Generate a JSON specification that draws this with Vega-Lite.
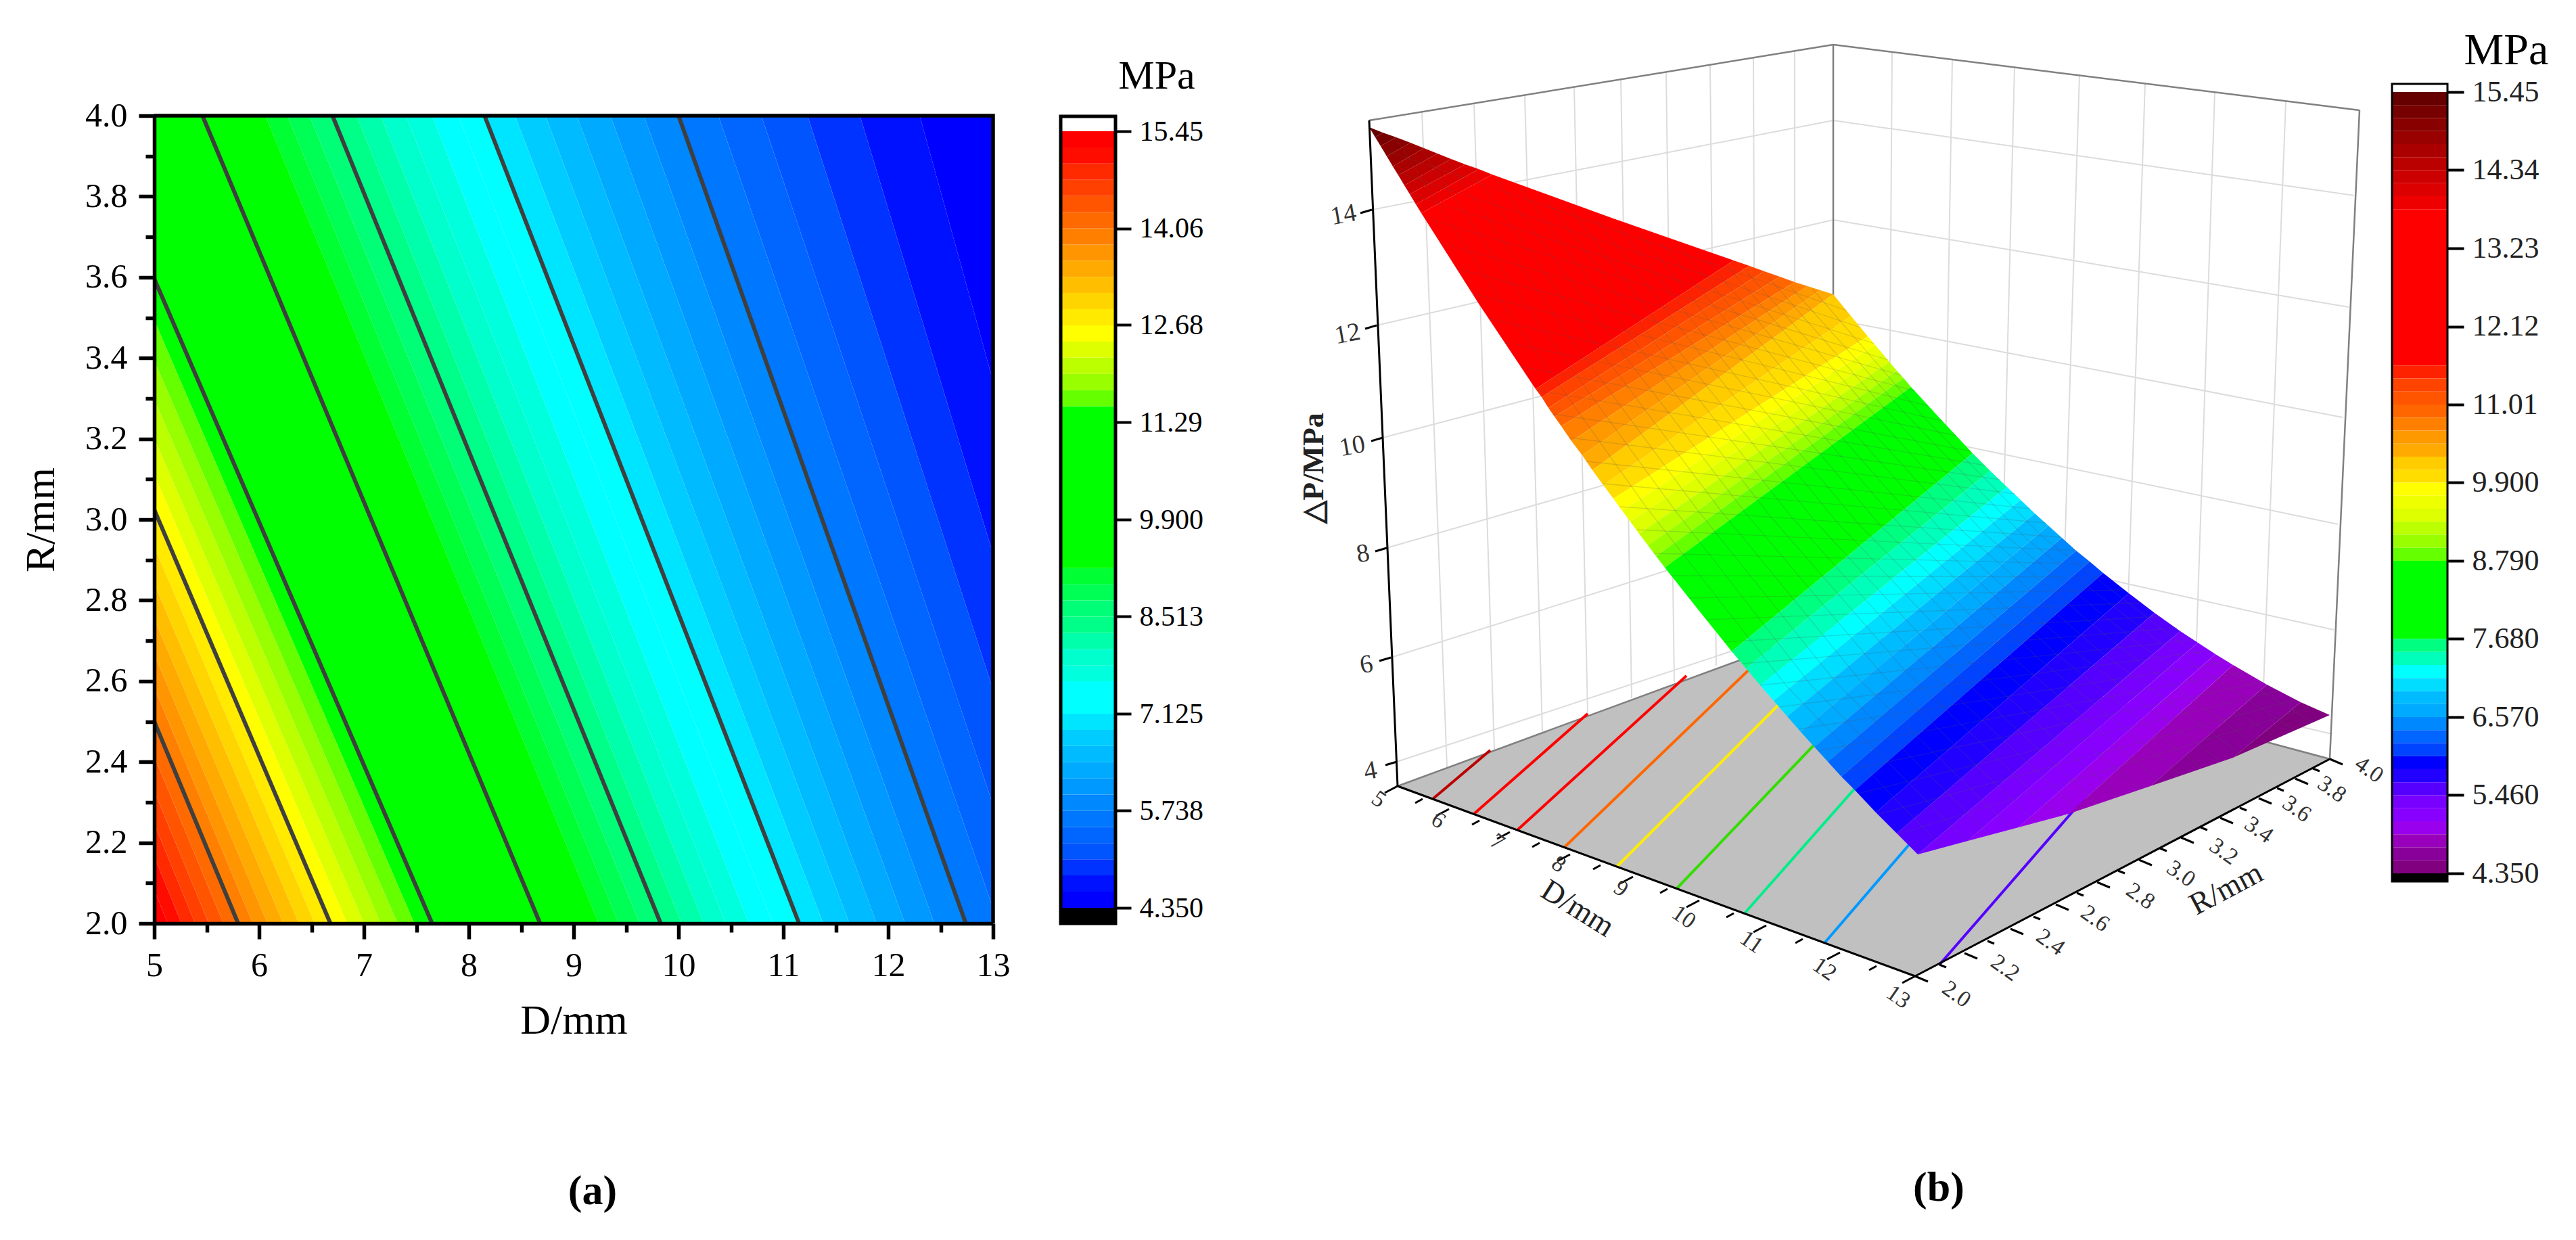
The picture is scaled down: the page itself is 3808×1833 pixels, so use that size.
{
"$schema":"https://vega.github.io/schema/vega-lite/v6.json",
"padding":{"left":29,"top":0,"right":0,"bottom":0},
"background":"white",
"config":{"view":{"stroke":null},"font":"Liberation Serif"},
"spacing":0,
"bounds":"flush",
"hconcat":[
{"width":1240,"height":1365,"layer":[
{"data":{"values":[
{"level":4.47,"R":2,"D":17.0,"D2":14.43},{"level":4.47,"R":4,"D":15.0,"D2":12.3},
{"level":4.70,"R":2,"D":14.43,"D2":14.07},{"level":4.70,"R":4,"D":12.3,"D2":11.73},
{"level":4.93,"R":2,"D":14.07,"D2":13.72},{"level":4.93,"R":4,"D":11.73,"D2":11.23},
{"level":5.16,"R":2,"D":13.72,"D2":13.38},{"level":5.16,"R":4,"D":11.23,"D2":10.79},
{"level":5.39,"R":2,"D":13.38,"D2":13.05},{"level":5.39,"R":4,"D":10.79,"D2":10.38},
{"level":5.62,"R":2,"D":13.05,"D2":12.74},{"level":5.62,"R":4,"D":10.38,"D2":10.0},
{"level":5.85,"R":2,"D":12.74,"D2":12.44},{"level":5.85,"R":4,"D":10.0,"D2":9.67},
{"level":6.08,"R":2,"D":12.44,"D2":12.16},{"level":6.08,"R":4,"D":9.67,"D2":9.35},
{"level":6.32,"R":2,"D":12.16,"D2":11.89},{"level":6.32,"R":4,"D":9.35,"D2":9.03},
{"level":6.55,"R":2,"D":11.89,"D2":11.63},{"level":6.55,"R":4,"D":9.03,"D2":8.73},
{"level":6.78,"R":2,"D":11.63,"D2":11.38},{"level":6.78,"R":4,"D":8.73,"D2":8.44},
{"level":7.01,"R":2,"D":11.38,"D2":11.15},{"level":7.01,"R":4,"D":8.44,"D2":8.15},
{"level":7.24,"R":2,"D":11.15,"D2":10.9},{"level":7.24,"R":4,"D":8.15,"D2":7.9},
{"level":7.47,"R":2,"D":10.9,"D2":10.67},{"level":7.47,"R":4,"D":7.9,"D2":7.65},
{"level":7.70,"R":2,"D":10.67,"D2":10.45},{"level":7.70,"R":4,"D":7.65,"D2":7.4},
{"level":7.93,"R":2,"D":10.45,"D2":10.24},{"level":7.93,"R":4,"D":7.4,"D2":7.16},
{"level":8.17,"R":2,"D":10.24,"D2":10.03},{"level":8.17,"R":4,"D":7.16,"D2":6.93},
{"level":8.40,"R":2,"D":10.03,"D2":9.83},{"level":8.40,"R":4,"D":6.93,"D2":6.7},
{"level":8.63,"R":2,"D":9.83,"D2":9.63},{"level":8.63,"R":4,"D":6.7,"D2":6.48},
{"level":8.86,"R":2,"D":9.63,"D2":9.43},{"level":8.86,"R":4,"D":6.48,"D2":6.27},
{"level":9.09,"R":2,"D":9.43,"D2":9.24},{"level":9.09,"R":4,"D":6.27,"D2":6.06},
{"level":10.4,"R":2,"D":9.24,"D2":7.48},{"level":10.4,"R":4,"D":6.06,"D2":4.16},
{"level":11.63,"R":2,"D":7.48,"D2":7.32},{"level":11.63,"R":4,"D":4.16,"D2":3.99},
{"level":11.87,"R":2,"D":7.32,"D2":7.16},{"level":11.87,"R":4,"D":3.99,"D2":3.83},
{"level":12.10,"R":2,"D":7.16,"D2":7.0},{"level":12.10,"R":4,"D":3.83,"D2":3.67},
{"level":12.33,"R":2,"D":7.0,"D2":6.84},{"level":12.33,"R":4,"D":3.67,"D2":3.53},
{"level":12.56,"R":2,"D":6.84,"D2":6.68},{"level":12.56,"R":4,"D":3.53,"D2":3.4},
{"level":12.79,"R":2,"D":6.68,"D2":6.53},{"level":12.79,"R":4,"D":3.4,"D2":3.25},
{"level":13.02,"R":2,"D":6.53,"D2":6.38},{"level":13.02,"R":4,"D":3.25,"D2":3.1},
{"level":13.25,"R":2,"D":6.38,"D2":6.23},{"level":13.25,"R":4,"D":3.1,"D2":2.97},
{"level":13.48,"R":2,"D":6.23,"D2":6.08},{"level":13.48,"R":4,"D":2.97,"D2":2.84},
{"level":13.72,"R":2,"D":6.08,"D2":5.94},{"level":13.72,"R":4,"D":2.84,"D2":2.72},
{"level":13.95,"R":2,"D":5.94,"D2":5.8},{"level":13.95,"R":4,"D":2.72,"D2":2.6},
{"level":14.18,"R":2,"D":5.8,"D2":5.66},{"level":14.18,"R":4,"D":2.6,"D2":2.47},
{"level":14.41,"R":2,"D":5.66,"D2":5.52},{"level":14.41,"R":4,"D":2.47,"D2":2.35},
{"level":14.64,"R":2,"D":5.52,"D2":5.39},{"level":14.64,"R":4,"D":2.35,"D2":2.23},
{"level":14.87,"R":2,"D":5.39,"D2":5.26},{"level":14.87,"R":4,"D":2.23,"D2":2.12},
{"level":15.10,"R":2,"D":5.26,"D2":5.13},{"level":15.10,"R":4,"D":2.12,"D2":2.0},
{"level":15.33,"R":2,"D":5.13,"D2":5.0},{"level":15.33,"R":4,"D":2.0,"D2":1.9}
]},
"mark":{"type":"area","orient":"horizontal","clip":true},
"encoding":{
"x":{"field":"D","type":"quantitative","scale":{"domain":[5,13],"nice":false,"zero":false},
"axis":{"values":[5,5.5,6,6.5,7,7.5,8,8.5,9,9.5,10,10.5,11,11.5,12,12.5,13],"labelExpr":"datum.value%1==0?format(datum.value,'d'):''","tickSize":{"condition":{"test":"datum.value%1==0","value":23},"value":13},"tickWidth":5.5,"tickColor":"black","domainWidth":5.5,"domainColor":"black","labelFont":"Liberation Serif","labelFontSize":50,"labelColor":"black","labelPadding":14,"labelOverlap":false,"labelBound":false,"labelFlush":false,"grid":false,"title":"D/mm","titleFont":"Liberation Serif","titleFontSize":62,"titleFontWeight":"normal","titleColor":"black","titlePadding":26,"zindex":2}},
"x2":{"field":"D2"},
"y":{"field":"R","type":"quantitative","scale":{"domain":[2,4],"range":[1365,171],"nice":false,"zero":false},
"axis":{"values":[2,2.1,2.2,2.3,2.4,2.5,2.6,2.7,2.8,2.9,3,3.1,3.2,3.3,3.4,3.5,3.6,3.7,3.8,3.9,4],"labelExpr":"round(datum.value*10)%2==0?format(datum.value,'.1f'):''","tickSize":{"condition":{"test":"round(datum.value*10)%2==0","value":23},"value":13},"tickWidth":5.5,"tickColor":"black","domainWidth":5.5,"domainColor":"black","labelFont":"Liberation Serif","labelFontSize":50,"labelColor":"black","labelPadding":17,"labelOverlap":false,"labelBound":false,"grid":false,"title":"R/mm","titleFont":"Liberation Serif","titleFontSize":62,"titleFontWeight":"normal","titleColor":"black","titlePadding":33,"zindex":2}},
"color":{"field":"level","type":"quantitative","legend":null,"scale":{"type":"threshold","domain":[4.581,4.813,5.044,5.275,5.506,5.738,5.969,6.2,6.431,6.663,6.894,7.125,7.356,7.588,7.819,8.05,8.281,8.513,8.744,8.975,9.206,11.519,11.75,11.981,12.213,12.444,12.675,12.906,13.138,13.369,13.6,13.831,14.063,14.294,14.525,14.756,14.988,15.219],"range":["#0000FF","#0011FF","#0033FF","#0055FF","#0066FF","#0077FF","#0088FF","#0099FF","#00AAFF","#00BBFF","#00CCFF","#00E5FF","#00FFFF","#00FFFF","#00FFDD","#00FFCC","#00FFAA","#00FF88","#00FF77","#00FF55","#00FF33","#00FF00","#66FF00","#99FF00","#BBFF00","#DDFF00","#FFFF00","#FFEA00","#FFD500","#FFBF00","#FFAA00","#FF9500","#FF8000","#FF6A00","#FF5500","#FF4000","#FF2A00","#FF0C00","#FF0000"]}},
"detail":{"field":"level"}}},
{"data":{"values":[
{"level":14.06,"R":2,"D":5.8},{"level":14.06,"R":4,"D":2.6},
{"level":12.68,"R":2,"D":6.68},{"level":12.68,"R":4,"D":3.4},
{"level":11.29,"R":2,"D":7.65},{"level":11.29,"R":4,"D":4.33},
{"level":9.9,"R":2,"D":8.68},{"level":9.9,"R":4,"D":5.46},
{"level":8.513,"R":2,"D":9.83},{"level":8.513,"R":4,"D":6.7},
{"level":7.125,"R":2,"D":11.15},{"level":7.125,"R":4,"D":8.15},
{"level":5.738,"R":2,"D":12.74},{"level":5.738,"R":4,"D":10.0}
]},
"mark":{"type":"line","color":"#3f3f3f","strokeWidth":6,"clip":true},
"encoding":{"x":{"field":"D","type":"quantitative"},"y":{"field":"R","type":"quantitative"},"detail":{"field":"level"}}},
{"data":{"values":[{"D":5,"R":4},{"D":13,"R":4},{"D":13,"R":2}]},
"mark":{"type":"line","color":"black","strokeWidth":5.5},
"encoding":{"x":{"field":"D","type":"quantitative"},"y":{"field":"R","type":"quantitative"}}},
{"data":{"values":[{"caption":"(a)","D":9.18,"R":1.305}]},
"mark":{"type":"text","fontSize":62,"fontWeight":"bold","font":"Liberation Serif","color":"black","align":"center","baseline":"alphabetic"},
"encoding":{"x":{"field":"D","type":"quantitative"},"y":{"field":"R","type":"quantitative"},"text":{"field":"caption"}}}
]},
{"width":181,"height":1365,"layer":[
{"data":{"values":[
{"level":4.47,"lo":4.35,"hi":4.581},{"level":4.70,"lo":4.581,"hi":4.813},{"level":4.93,"lo":4.813,"hi":5.044},{"level":5.16,"lo":5.044,"hi":5.275},{"level":5.39,"lo":5.275,"hi":5.506},{"level":5.62,"lo":5.506,"hi":5.738},{"level":5.85,"lo":5.738,"hi":5.969},{"level":6.08,"lo":5.969,"hi":6.2},{"level":6.32,"lo":6.2,"hi":6.431},{"level":6.55,"lo":6.431,"hi":6.663},{"level":6.78,"lo":6.663,"hi":6.894},{"level":7.01,"lo":6.894,"hi":7.125},{"level":7.24,"lo":7.125,"hi":7.356},{"level":7.47,"lo":7.356,"hi":7.588},{"level":7.70,"lo":7.588,"hi":7.819},{"level":7.93,"lo":7.819,"hi":8.05},{"level":8.17,"lo":8.05,"hi":8.281},{"level":8.40,"lo":8.281,"hi":8.513},{"level":8.63,"lo":8.513,"hi":8.744},{"level":8.86,"lo":8.744,"hi":8.975},{"level":9.09,"lo":8.975,"hi":9.206},{"level":10.4,"lo":9.206,"hi":11.519},{"level":11.63,"lo":11.519,"hi":11.75},{"level":11.87,"lo":11.75,"hi":11.981},{"level":12.10,"lo":11.981,"hi":12.213},{"level":12.33,"lo":12.213,"hi":12.444},{"level":12.56,"lo":12.444,"hi":12.675},{"level":12.79,"lo":12.675,"hi":12.906},{"level":13.02,"lo":12.906,"hi":13.138},{"level":13.25,"lo":13.138,"hi":13.369},{"level":13.48,"lo":13.369,"hi":13.6},{"level":13.72,"lo":13.6,"hi":13.831},{"level":13.95,"lo":13.831,"hi":14.063},{"level":14.18,"lo":14.063,"hi":14.294},{"level":14.41,"lo":14.294,"hi":14.525},{"level":14.64,"lo":14.525,"hi":14.756},{"level":14.87,"lo":14.756,"hi":14.988},{"level":15.10,"lo":14.988,"hi":15.219},{"level":15.33,"lo":15.219,"hi":15.45}
]},
"mark":{"type":"rect"},
"encoding":{
"x":{"datum":0,"type":"quantitative","scale":{"domain":[0,1],"range":[100,181]},"axis":null},
"x2":{"datum":1},
"y":{"field":"lo","type":"quantitative","scale":{"domain":[4.35,15.45],"range":[1342,194],"nice":false,"zero":false},
"axis":{"orient":"right","values":[4.35,5.738,7.125,8.513,9.9,11.29,12.68,14.06,15.45],"format":".4r","domain":false,"tickSize":23,"tickWidth":4,"tickColor":"black","labelFont":"Liberation Serif","labelFontSize":42,"labelColor":"black","labelPadding":12,"labelOverlap":false,"labelBound":false,"grid":false,"title":null,"zindex":2}},
"y2":{"field":"hi"},
"color":{"field":"level","type":"quantitative","legend":null,"scale":{"type":"threshold","domain":[4.581,4.813,5.044,5.275,5.506,5.738,5.969,6.2,6.431,6.663,6.894,7.125,7.356,7.588,7.819,8.05,8.281,8.513,8.744,8.975,9.206,11.519,11.75,11.981,12.213,12.444,12.675,12.906,13.138,13.369,13.6,13.831,14.063,14.294,14.525,14.756,14.988,15.219],"range":["#0000FF","#0011FF","#0033FF","#0055FF","#0066FF","#0077FF","#0088FF","#0099FF","#00AAFF","#00BBFF","#00CCFF","#00E5FF","#00FFFF","#00FFFF","#00FFDD","#00FFCC","#00FFAA","#00FF88","#00FF77","#00FF55","#00FF33","#00FF00","#66FF00","#99FF00","#BBFF00","#DDFF00","#FFFF00","#FFEA00","#FFD500","#FFBF00","#FFAA00","#FF9500","#FF8000","#FF6A00","#FF5500","#FF4000","#FF2A00","#FF0C00","#FF0000"]}}}},
{"data":{"values":[{"lo":4.128,"hi":4.35}]},
"mark":{"type":"rect","color":"black"},
"encoding":{"x":{"datum":0,"type":"quantitative"},"x2":{"datum":1},"y":{"field":"lo","type":"quantitative"},"y2":{"field":"hi"}}},
{"data":{"values":[{"lo":4.128,"hi":15.663}]},
"mark":{"type":"rect","filled":false,"stroke":"black","strokeWidth":5},
"encoding":{"x":{"datum":0,"type":"quantitative"},"x2":{"datum":1},"y":{"field":"lo","type":"quantitative"},"y2":{"field":"hi"}}},
{"data":{"values":[{"unit":"MPa","x":1.753,"lo":16.06}]},
"mark":{"type":"text","fontSize":60,"font":"Liberation Serif","color":"black","align":"center","baseline":"alphabetic"},
"encoding":{"x":{"field":"x","type":"quantitative"},"y":{"field":"lo","type":"quantitative"},"text":{"field":"unit"}}}
]},
{"width":1887,"height":1833,"layer":[
{"data":{"values":[
{"u":45.3,"v":166.8,"u2":49.0,"v2":69.9},{"u":53.0,"v":168.0,"u2":56.0,"v2":72.5},{"u":60.5,"v":169.3,"u2":63.1,"v2":75.2},{"u":67.8,"v":170.5,"u2":69.8,"v2":77.7},{"u":74.7,"v":171.6,"u2":76.3,"v2":80.1},{"u":81.4,"v":172.7,"u2":82.6,"v2":82.5},{"u":87.9,"v":173.7,"u2":88.8,"v2":84.9},{"u":94.3,"v":174.8,"u2":94.6,"v2":87.0},{"u":100.4,"v":175.8,"u2":100.4,"v2":89.2},
{"u":37.9,"v":152.3,"u2":106.1,"v2":165.5},{"u":38.6,"v":135.2,"u2":106.1,"v2":150.8},{"u":39.5,"v":118.6,"u2":106.1,"v2":136.1},{"u":40.1,"v":102.3,"u2":106.1,"v2":121.4},{"u":40.7,"v":86.1,"u2":106.1,"v2":106.7},{"u":41.6,"v":70.7,"u2":106.1,"v2":92.0},
{"u":106.1,"v":165.5,"u2":183.1,"v2":154.4},{"u":106.1,"v":150.8,"u2":182.3,"v2":137.9},{"u":106.1,"v":136.1,"u2":181.4,"v2":121.6},{"u":106.1,"v":121.4,"u2":180.7,"v2":105.8},{"u":106.1,"v":106.7,"u2":180.1,"v2":90.2},{"u":106.1,"v":92.0,"u2":179.8,"v2":74.8},
{"u":114.8,"v":175.6,"u2":114.2,"v2":88.6},{"u":123.7,"v":174.5,"u2":122.2,"v2":86.5},{"u":132.9,"v":173.4,"u2":130.7,"v2":84.2},{"u":142.5,"v":172.2,"u2":139.7,"v2":81.8},{"u":152.2,"v":171.0,"u2":149.2,"v2":79.3},{"u":162.5,"v":169.7,"u2":159.4,"v2":76.5},{"u":173.0,"v":168.4,"u2":169.4,"v2":73.8}
]},
"mark":{"type":"rule","color":"#dcdcdc","strokeWidth":2},
"encoding":{
"x":{"field":"u","type":"quantitative","scale":{"domain":[0,188.7],"nice":false,"zero":false},"axis":null},
"y":{"field":"v","type":"quantitative","scale":{"domain":[0,183.3],"nice":false,"zero":false},"axis":null},
"x2":{"field":"u2"},"y2":{"field":"v2"}}},
{"data":{"values":[
{"u":37.5,"v":165.5,"u2":106.1,"v2":176.7},{"u":106.1,"v":176.7,"u2":183.9,"v2":167.0},{"u":106.1,"v":176.7,"u2":106.1,"v2":90.8},{"u":183.9,"v":167.0,"u2":179.5,"v2":71.1}
]},
"mark":{"type":"rule","color":"#808080","strokeWidth":2.5},
"encoding":{"x":{"field":"u","type":"quantitative"},"y":{"field":"v","type":"quantitative"},"x2":{"field":"u2"},"y2":{"field":"v2"}}},
{"data":{"values":[{"k":0,"u":41.7,"v":67.1},{"k":1,"u":118.2,"v":39.0},{"k":2,"u":179.5,"v":71.1},{"k":3,"u":106.1,"v":90.8}]},
"mark":{"type":"line","fill":"#C0C0C0","stroke":"#808080","strokeWidth":2.5,"interpolate":"linear-closed"},
"encoding":{"x":{"field":"u","type":"quantitative"},"y":{"field":"v","type":"quantitative"},"order":{"field":"k"}}},
{"data":{"values":[
{"level":14.34,"u":46.9,"v":65.2,"u2":55.4,"v2":72.4},{"level":13.23,"u":53.0,"v":63.0,"u2":69.8,"v2":77.8},{"level":12.12,"u":59.4,"v":60.6,"u2":84.4,"v2":83.4},{"level":11.01,"u":66.4,"v":58.1,"u2":95.2,"v2":85.8},{"level":9.9,"u":74.1,"v":55.2,"u2":101.2,"v2":82.3},{"level":8.79,"u":83.0,"v":52.0,"u2":107.2,"v2":77.3},{"level":7.68,"u":93.0,"v":48.3,"u2":114.2,"v2":72.3},{"level":6.57,"u":104.8,"v":43.9,"u2":120.2,"v2":61.8},{"level":5.46,"u":121.8,"v":40.7,"u2":143.2,"v2":65.3}
]},
"mark":{"type":"rule","strokeWidth":4},
"encoding":{"x":{"field":"u","type":"quantitative"},"y":{"field":"v","type":"quantitative"},"x2":{"field":"u2"},"y2":{"field":"v2"},
"color":{"field":"level","type":"ordinal","legend":null,"scale":{"domain":[14.34,13.23,12.12,11.01,9.9,8.79,7.68,6.57,5.46],"range":["#BB0000","#FF0000","#FF0000","#FF6600","#FFEE00","#33DD00","#00EE88","#0099FF","#5500FF"]}}}},
{"data":{"values":[
{"level":15.36,"k":0,"u":37.5,"v":164.5},{"level":15.36,"k":1,"u":39.5,"v":163.7},{"level":15.36,"k":2,"u":38.4,"v":163.0},
{"level":15.17,"k":0,"u":38.4,"v":163.0},{"level":15.17,"k":1,"u":39.5,"v":163.7},{"level":15.17,"k":2,"u":41.5,"v":163.0},{"level":15.17,"k":3,"u":39.2,"v":161.7},
{"level":14.99,"k":0,"u":39.2,"v":161.7},{"level":14.99,"k":1,"u":41.5,"v":163.0},{"level":14.99,"k":2,"u":43.6,"v":162.2},{"level":14.99,"k":3,"u":40.1,"v":160.2},
{"level":14.80,"k":0,"u":40.1,"v":160.2},{"level":14.80,"k":1,"u":43.6,"v":162.2},{"level":14.80,"k":2,"u":45.6,"v":161.4},{"level":14.80,"k":3,"u":41.0,"v":158.7},
{"level":14.62,"k":0,"u":41.0,"v":158.7},{"level":14.62,"k":1,"u":45.6,"v":161.4},{"level":14.62,"k":2,"u":47.6,"v":160.6},{"level":14.62,"k":3,"u":41.8,"v":157.4},
{"level":14.43,"k":0,"u":41.8,"v":157.4},{"level":14.43,"k":1,"u":47.6,"v":160.6},{"level":14.43,"k":2,"u":49.6,"v":159.8},{"level":14.43,"k":3,"u":42.7,"v":155.9},
{"level":14.25,"k":0,"u":42.7,"v":155.9},{"level":14.25,"k":1,"u":49.6,"v":159.8},{"level":14.25,"k":2,"u":51.7,"v":159.0},{"level":14.25,"k":3,"u":43.5,"v":154.6},
{"level":14.06,"k":0,"u":43.5,"v":154.6},{"level":14.06,"k":1,"u":51.7,"v":159.0},{"level":14.06,"k":2,"u":53.7,"v":158.3},{"level":14.06,"k":3,"u":44.4,"v":153.1},
{"level":13.88,"k":0,"u":44.4,"v":153.1},{"level":13.88,"k":1,"u":53.7,"v":158.3},{"level":13.88,"k":2,"u":55.7,"v":157.5},{"level":13.88,"k":3,"u":45.2,"v":151.8},
{"level":13.0,"k":0,"u":45.2,"v":151.8},{"level":13.0,"k":1,"u":53.7,"v":138.4},{"level":13.0,"k":2,"u":62.1,"v":125.8},{"level":13.0,"k":3,"u":91.4,"v":144.8},{"level":13.0,"k":4,"u":73.6,"v":151.0},{"level":13.0,"k":5,"u":55.7,"v":157.5},
{"level":11.47,"k":0,"u":62.1,"v":125.8},{"level":11.47,"k":1,"u":91.4,"v":144.8},{"level":11.47,"k":2,"u":93.7,"v":144.0},{"level":11.47,"k":3,"u":63.0,"v":124.6},
{"level":11.29,"k":0,"u":63.0,"v":124.6},{"level":11.29,"k":1,"u":93.7,"v":144.0},{"level":11.29,"k":2,"u":95.9,"v":143.2},{"level":11.29,"k":3,"u":64.0,"v":123.0},
{"level":11.10,"k":0,"u":64.0,"v":123.0},{"level":11.10,"k":1,"u":95.9,"v":143.2},{"level":11.10,"k":2,"u":98.2,"v":142.4},{"level":11.10,"k":3,"u":64.9,"v":121.7},
{"level":10.92,"k":0,"u":64.9,"v":121.7},{"level":10.92,"k":1,"u":98.2,"v":142.4},{"level":10.92,"k":2,"u":100.4,"v":141.6},{"level":10.92,"k":3,"u":65.9,"v":120.3},
{"level":10.73,"k":0,"u":65.9,"v":120.3},{"level":10.73,"k":1,"u":100.4,"v":141.6},{"level":10.73,"k":2,"u":102.3,"v":141.0},{"level":10.73,"k":3,"u":67.4,"v":118.1},
{"level":10.55,"k":0,"u":67.4,"v":118.1},{"level":10.55,"k":1,"u":102.3,"v":141.0},{"level":10.55,"k":2,"u":104.2,"v":140.4},{"level":10.55,"k":3,"u":69.0,"v":116.0},
{"level":10.36,"k":0,"u":69.0,"v":116.0},{"level":10.36,"k":1,"u":104.2,"v":140.4},{"level":10.36,"k":2,"u":106.1,"v":139.8},{"level":10.36,"k":3,"u":70.5,"v":113.8},
{"level":10.18,"k":0,"u":70.5,"v":113.8},{"level":10.18,"k":1,"u":106.1,"v":139.8},{"level":10.18,"k":2,"u":108.7,"v":136.6},{"level":10.18,"k":3,"u":72.1,"v":111.6},
{"level":9.99,"k":0,"u":72.1,"v":111.6},{"level":9.99,"k":1,"u":108.7,"v":136.6},{"level":9.99,"k":2,"u":111.2,"v":133.6},{"level":9.99,"k":3,"u":73.6,"v":109.6},
{"level":9.81,"k":0,"u":73.6,"v":109.6},{"level":9.81,"k":1,"u":111.2,"v":133.6},{"level":9.81,"k":2,"u":112.3,"v":132.3},{"level":9.81,"k":3,"u":74.9,"v":107.8},
{"level":9.62,"k":0,"u":74.9,"v":107.8},{"level":9.62,"k":1,"u":112.3,"v":132.3},{"level":9.62,"k":2,"u":113.4,"v":131.0},{"level":9.62,"k":3,"u":76.1,"v":106.2},
{"level":9.44,"k":0,"u":76.1,"v":106.2},{"level":9.44,"k":1,"u":113.4,"v":131.0},{"level":9.44,"k":2,"u":114.4,"v":129.8},{"level":9.44,"k":3,"u":77.4,"v":104.4},
{"level":9.25,"k":0,"u":77.4,"v":104.4},{"level":9.25,"k":1,"u":114.4,"v":129.8},{"level":9.25,"k":2,"u":115.5,"v":128.5},{"level":9.25,"k":3,"u":78.7,"v":102.7},
{"level":9.07,"k":0,"u":78.7,"v":102.7},{"level":9.07,"k":1,"u":115.5,"v":128.5},{"level":9.07,"k":2,"u":116.5,"v":127.4},{"level":9.07,"k":3,"u":79.9,"v":101.1},
{"level":8.88,"k":0,"u":79.9,"v":101.1},{"level":8.88,"k":1,"u":116.5,"v":127.4},{"level":8.88,"k":2,"u":117.6,"v":126.1},{"level":8.88,"k":3,"u":81.2,"v":99.4},
{"level":8.2,"k":0,"u":81.2,"v":99.4},{"level":8.2,"k":1,"u":86.2,"v":93.1},{"level":8.2,"k":2,"u":91.1,"v":87.0},{"level":8.2,"k":3,"u":126.7,"v":116.3},{"level":8.2,"k":4,"u":122.2,"v":121.1},{"level":8.2,"k":5,"u":117.6,"v":126.1},
{"level":7.59,"k":0,"u":91.1,"v":87.0},{"level":7.59,"k":1,"u":126.7,"v":116.3},{"level":7.59,"k":2,"u":129.3,"v":113.7},{"level":7.59,"k":3,"u":93.2,"v":84.5},
{"level":7.40,"k":0,"u":93.2,"v":84.5},{"level":7.40,"k":1,"u":129.3,"v":113.7},{"level":7.40,"k":2,"u":131.8,"v":111.3},{"level":7.40,"k":3,"u":95.3,"v":82.0},
{"level":7.22,"k":0,"u":95.3,"v":82.0},{"level":7.22,"k":1,"u":131.8,"v":111.3},{"level":7.22,"k":2,"u":133.8,"v":109.4},{"level":7.22,"k":3,"u":97.3,"v":79.7},
{"level":7.03,"k":0,"u":97.3,"v":79.7},{"level":7.03,"k":1,"u":133.8,"v":109.4},{"level":7.03,"k":2,"u":135.9,"v":107.4},{"level":7.03,"k":3,"u":99.3,"v":77.4},
{"level":6.85,"k":0,"u":99.3,"v":77.4},{"level":6.85,"k":1,"u":135.9,"v":107.4},{"level":6.85,"k":2,"u":137.9,"v":105.6},{"level":6.85,"k":3,"u":101.3,"v":75.1},
{"level":6.66,"k":0,"u":101.3,"v":75.1},{"level":6.66,"k":1,"u":137.9,"v":105.6},{"level":6.66,"k":2,"u":139.9,"v":103.8},{"level":6.66,"k":3,"u":103.3,"v":72.9},
{"level":6.48,"k":0,"u":103.3,"v":72.9},{"level":6.48,"k":1,"u":139.9,"v":103.8},{"level":6.48,"k":2,"u":142.0,"v":101.9},{"level":6.48,"k":3,"u":105.3,"v":70.7},
{"level":6.29,"k":0,"u":105.3,"v":70.7},{"level":6.29,"k":1,"u":142.0,"v":101.9},{"level":6.29,"k":2,"u":144.0,"v":100.3},{"level":6.29,"k":3,"u":107.3,"v":68.5},
{"level":6.11,"k":0,"u":107.3,"v":68.5},{"level":6.11,"k":1,"u":144.0,"v":100.3},{"level":6.11,"k":2,"u":146.0,"v":98.6},{"level":6.11,"k":3,"u":109.3,"v":66.5},
{"level":5.92,"k":0,"u":109.3,"v":66.5},{"level":5.92,"k":1,"u":146.0,"v":98.6},{"level":5.92,"k":2,"u":149.8,"v":95.6},{"level":5.92,"k":3,"u":112.4,"v":63.2},
{"level":5.74,"k":0,"u":112.4,"v":63.2},{"level":5.74,"k":1,"u":149.8,"v":95.6},{"level":5.74,"k":2,"u":153.6,"v":92.7},{"level":5.74,"k":3,"u":115.5,"v":60.1},
{"level":5.55,"k":0,"u":115.5,"v":60.1},{"level":5.55,"k":1,"u":153.6,"v":92.7},{"level":5.55,"k":2,"u":157.4,"v":90.0},{"level":5.55,"k":3,"u":118.6,"v":57.0},
{"level":5.37,"k":0,"u":118.6,"v":57.0},{"level":5.37,"k":1,"u":157.4,"v":90.0},{"level":5.37,"k":2,"u":160.0,"v":88.3},{"level":5.37,"k":3,"u":126.0,"v":59.0},
{"level":5.18,"k":0,"u":126.0,"v":59.0},{"level":5.18,"k":1,"u":160.0,"v":88.3},{"level":5.18,"k":2,"u":162.6,"v":86.6},{"level":5.18,"k":3,"u":133.5,"v":61.0},
{"level":5.00,"k":0,"u":133.5,"v":61.0},{"level":5.00,"k":1,"u":162.6,"v":86.6},{"level":5.00,"k":2,"u":165.2,"v":85.0},{"level":5.00,"k":3,"u":140.9,"v":63.0},
{"level":4.81,"k":0,"u":140.9,"v":63.0},{"level":4.81,"k":1,"u":165.2,"v":85.0},{"level":4.81,"k":2,"u":170.2,"v":82.1},{"level":4.81,"k":3,"u":153.0,"v":67.1},
{"level":4.63,"k":0,"u":153.0,"v":67.1},{"level":4.63,"k":1,"u":170.2,"v":82.1},{"level":4.63,"k":2,"u":175.2,"v":79.5},{"level":4.63,"k":3,"u":165.2,"v":71.3},
{"level":4.44,"k":0,"u":165.2,"v":71.3},{"level":4.44,"k":1,"u":175.2,"v":79.5},{"level":4.44,"k":2,"u":179.5,"v":77.6}
]},
"mark":{"type":"line","strokeWidth":0,"interpolate":"linear-closed"},
"encoding":{"x":{"field":"u","type":"quantitative"},"y":{"field":"v","type":"quantitative"},"order":{"field":"k"},"detail":{"field":"level"},
"fill":{"field":"level","type":"quantitative","legend":null,"scale":{"type":"threshold","domain":[4.535,4.72,4.905,5.09,5.275,5.46,5.645,5.83,6.015,6.2,6.385,6.57,6.755,6.94,7.125,7.31,7.495,7.68,8.79,8.975,9.16,9.345,9.53,9.715,9.9,10.085,10.27,10.455,10.64,10.825,11.01,11.195,11.38,11.565,13.785,13.97,14.155,14.34,14.525,14.71,14.895,15.08,15.265],"range":["#800080","#880099","#9900BB","#9900EE","#8800FF","#7700FF","#5500FF","#2200FF","#0000FF","#0044FF","#0066FF","#0088FF","#00AAFF","#00BBFF","#00DDFF","#00FFFF","#00FFBB","#00FF80","#00FF00","#66FF00","#99FF00","#BBFF00","#DDFF00","#EEFF00","#FFFF00","#FFDD00","#FFCC00","#FFAA00","#FF9900","#FF8000","#FF6600","#FF5500","#FF4400","#FF2200","#FF0000","#EE0000","#DD0000","#CC0000","#BB0000","#AA0000","#990000","#880000","#770000","#660000"]}}}},
{"data":{"values":[
{"u":41.5,"v":157.9,"u2":110.1,"v2":134.9},{"u":45.6,"v":151.2,"u2":114.2,"v2":130.1},{"u":50.4,"v":143.6,"u2":118.2,"v2":125.5},{"u":55.2,"v":136.2,"u2":122.2,"v2":121.1},{"u":59.9,"v":129.1,"u2":126.4,"v2":116.6},{"u":64.7,"v":122.1,"u2":130.7,"v2":112.4},{"u":69.6,"v":115.1,"u2":135.2,"v2":108.1},{"u":74.5,"v":108.4,"u2":139.7,"v2":103.9},{"u":79.6,"v":101.5,"u2":144.4,"v2":99.9},{"u":84.8,"v":94.9,"u2":149.2,"v2":96.1},{"u":90.0,"v":88.4,"u2":154.3,"v2":92.2},{"u":95.3,"v":82.0,"u2":159.4,"v2":88.7},{"u":101.0,"v":75.5,"u2":164.4,"v2":85.5},{"u":106.8,"v":69.1,"u2":169.4,"v2":82.5},{"u":112.7,"v":62.9,"u2":174.4,"v2":79.9},
{"u":39.5,"v":161.2,"u2":108.1,"v2":137.4},{"u":43.6,"v":154.6,"u2":112.2,"v2":132.5},{"u":48.0,"v":147.4,"u2":116.2,"v2":127.8},{"u":52.8,"v":139.9,"u2":120.2,"v2":123.3},{"u":57.6,"v":132.7,"u2":124.3,"v2":118.9},{"u":62.3,"v":125.6,"u2":128.6,"v2":114.5},{"u":67.2,"v":118.6,"u2":133.0,"v2":110.3},{"u":72.1,"v":111.8,"u2":137.5,"v2":106.0},{"u":77.1,"v":105.0,"u2":142.1,"v2":101.9},{"u":82.2,"v":98.2,"u2":146.8,"v2":98.0},{"u":87.4,"v":91.7,"u2":151.8,"v2":94.2},{"u":92.7,"v":85.2,"u2":156.9,"v2":90.5},{"u":98.2,"v":78.8,"u2":161.9,"v2":87.1},{"u":103.9,"v":72.3,"u2":166.9,"v2":84.0},{"u":109.8,"v":66.0,"u2":171.9,"v2":81.2},{"u":115.7,"v":60.0,"u2":177.0,"v2":78.8}
]},
"mark":{"type":"rule","color":"#555555","opacity":0.2,"strokeWidth":1.3},
"encoding":{"x":{"field":"u","type":"quantitative"},"y":{"field":"v","type":"quantitative"},"x2":{"field":"u2"},"y2":{"field":"v2"}}},
{"data":{"values":[
{"line":2.1,"k":0,"u":41.4,"v":162.9},{"line":2.1,"k":1,"u":59.2,"v":135.4},{"line":2.1,"k":2,"u":78.4,"v":108.4},{"line":2.1,"k":3,"u":99.1,"v":82.0},{"line":2.1,"k":4,"u":122.2,"v":58.0},
{"line":2.2,"k":0,"u":45.2,"v":161.3},{"line":2.2,"k":1,"u":63.2,"v":134.6},{"line":2.2,"k":2,"u":82.3,"v":108.4},{"line":2.2,"k":3,"u":102.9,"v":81.9},{"line":2.2,"k":4,"u":125.8,"v":59.0},
{"line":2.3,"k":0,"u":48.9,"v":159.8},{"line":2.3,"k":1,"u":66.9,"v":133.8},{"line":2.3,"k":2,"u":85.9,"v":108.1},{"line":2.3,"k":3,"u":106.5,"v":82.4},{"line":2.3,"k":4,"u":129.2,"v":59.9},
{"line":2.4,"k":0,"u":52.6,"v":158.2},{"line":2.4,"k":1,"u":70.6,"v":132.9},{"line":2.4,"k":2,"u":89.5,"v":107.8},{"line":2.4,"k":3,"u":110.0,"v":82.8},{"line":2.4,"k":4,"u":132.5,"v":60.7},
{"line":2.5,"k":0,"u":56.3,"v":156.8},{"line":2.5,"k":1,"u":74.3,"v":132.0},{"line":2.5,"k":2,"u":93.1,"v":107.5},{"line":2.5,"k":3,"u":113.6,"v":83.3},{"line":2.5,"k":4,"u":135.9,"v":61.8},
{"line":2.6,"k":0,"u":60.0,"v":155.3},{"line":2.6,"k":1,"u":78.0,"v":131.2},{"line":2.6,"k":2,"u":96.7,"v":107.1},{"line":2.6,"k":3,"u":117.1,"v":83.7},{"line":2.6,"k":4,"u":139.2,"v":62.8},
{"line":2.7,"k":0,"u":63.5,"v":154.0},{"line":2.7,"k":1,"u":81.4,"v":130.4},{"line":2.7,"k":2,"u":100.0,"v":106.8},{"line":2.7,"k":3,"u":120.3,"v":84.1},{"line":2.7,"k":4,"u":142.2,"v":63.7},
{"line":2.8,"k":0,"u":67.0,"v":152.7},{"line":2.8,"k":1,"u":84.7,"v":129.6},{"line":2.8,"k":2,"u":103.2,"v":106.5},{"line":2.8,"k":3,"u":123.5,"v":84.5},{"line":2.8,"k":4,"u":145.2,"v":64.5},
{"line":2.9,"k":0,"u":70.7,"v":151.3},{"line":2.9,"k":1,"u":88.1,"v":128.8},{"line":2.9,"k":2,"u":106.5,"v":106.3},{"line":2.9,"k":3,"u":126.7,"v":84.9},{"line":2.9,"k":4,"u":148.3,"v":65.6},
{"line":3.0,"k":0,"u":74.3,"v":149.9},{"line":3.0,"k":1,"u":91.4,"v":128.0},{"line":3.0,"k":2,"u":109.7,"v":106.0},{"line":3.0,"k":3,"u":129.9,"v":85.3},{"line":3.0,"k":4,"u":151.4,"v":66.6},
{"line":3.1,"k":0,"u":77.5,"v":148.7},{"line":3.1,"k":1,"u":94.8,"v":127.3},{"line":3.1,"k":2,"u":113.0,"v":105.7},{"line":3.1,"k":3,"u":133.1,"v":85.7},{"line":3.1,"k":4,"u":154.5,"v":67.7},
{"line":3.2,"k":0,"u":80.6,"v":147.5},{"line":3.2,"k":1,"u":98.1,"v":126.5},{"line":3.2,"k":2,"u":116.2,"v":105.4},{"line":3.2,"k":3,"u":136.3,"v":86.1},{"line":3.2,"k":4,"u":157.5,"v":68.7},
{"line":3.3,"k":0,"u":83.9,"v":146.3},{"line":3.3,"k":1,"u":101.1,"v":125.8},{"line":3.3,"k":2,"u":119.2,"v":105.2},{"line":3.3,"k":3,"u":139.2,"v":86.5},{"line":3.3,"k":4,"u":160.4,"v":69.8},
{"line":3.4,"k":0,"u":87.2,"v":145.1},{"line":3.4,"k":1,"u":104.1,"v":125.0},{"line":3.4,"k":2,"u":122.1,"v":104.9},{"line":3.4,"k":3,"u":142.1,"v":86.8},{"line":3.4,"k":4,"u":163.3,"v":70.8},
{"line":3.5,"k":0,"u":90.3,"v":144.1},{"line":3.5,"k":1,"u":107.5,"v":124.3},{"line":3.5,"k":2,"u":125.4,"v":104.6},{"line":3.5,"k":3,"u":145.3,"v":87.2},{"line":3.5,"k":4,"u":166.2,"v":71.9},
{"line":3.6,"k":0,"u":93.4,"v":143.0},{"line":3.6,"k":1,"u":110.8,"v":123.5},{"line":3.6,"k":2,"u":128.6,"v":104.3},{"line":3.6,"k":3,"u":148.5,"v":87.6},{"line":3.6,"k":4,"u":169.0,"v":72.9},
{"line":3.7,"k":0,"u":96.6,"v":142.2},{"line":3.7,"k":1,"u":113.8,"v":122.8},{"line":3.7,"k":2,"u":131.6,"v":104.1},{"line":3.7,"k":3,"u":151.4,"v":88.0},{"line":3.7,"k":4,"u":171.7,"v":74.1},
{"line":3.8,"k":0,"u":99.8,"v":140.9},{"line":3.8,"k":1,"u":116.8,"v":122.1},{"line":3.8,"k":2,"u":134.5,"v":103.8},{"line":3.8,"k":3,"u":154.3,"v":88.4},{"line":3.8,"k":4,"u":174.4,"v":75.3},
{"line":3.9,"k":0,"u":103.0,"v":140.6},{"line":3.9,"k":1,"u":119.5,"v":121.6},{"line":3.9,"k":2,"u":137.1,"v":103.9},{"line":3.9,"k":3,"u":156.9,"v":88.6},{"line":3.9,"k":4,"u":177.0,"v":76.5}
]},
"mark":{"type":"line","color":"#555555","opacity":0.2,"strokeWidth":1.3},
"encoding":{"x":{"field":"u","type":"quantitative"},"y":{"field":"v","type":"quantitative"},"order":{"field":"k"},"detail":{"field":"line"}}},
{"data":{"values":[
{"u":37.5,"v":165.5,"u2":41.7,"v2":67.1},{"u":41.7,"v":67.1,"u2":118.2,"v2":39.0},{"u":118.2,"v":39.0,"u2":179.5,"v2":71.1},
{"u":37.9,"v":152.3,"u2":36.2,"v2":151.8},{"u":38.6,"v":135.2,"u2":36.9,"v2":134.7},{"u":39.5,"v":118.6,"u2":37.8,"v2":118.1},{"u":40.1,"v":102.3,"u2":38.4,"v2":101.8},{"u":40.7,"v":86.1,"u2":39.0,"v2":85.6},{"u":41.6,"v":70.7,"u2":39.9,"v2":70.2},
{"u":41.7,"v":67.1,"u2":39.8,"v2":66.1},{"u":49.3,"v":63.7,"u2":47.4,"v2":62.7},{"u":58.3,"v":60.3,"u2":56.4,"v2":59.3},{"u":67.2,"v":57.0,"u2":65.3,"v2":56.0},{"u":76.5,"v":53.7,"u2":74.6,"v2":52.7},{"u":86.3,"v":50.2,"u2":84.4,"v2":49.2},{"u":96.2,"v":46.5,"u2":94.3,"v2":45.5},{"u":107.1,"v":42.5,"u2":105.2,"v2":41.5},{"u":118.2,"v":39.0,"u2":116.3,"v2":38.0},
{"u":45.4,"v":65.2,"u2":44.3,"v2":64.6},{"u":53.8,"v":62.0,"u2":52.7,"v2":61.4},{"u":62.7,"v":58.7,"u2":61.6,"v2":58.1},{"u":71.7,"v":55.4,"u2":70.6,"v2":54.8},{"u":81.6,"v":51.9,"u2":80.5,"v2":51.3},{"u":91.4,"v":48.3,"u2":90.3,"v2":47.7},{"u":101.6,"v":44.5,"u2":100.5,"v2":43.9},{"u":112.5,"v":40.5,"u2":111.4,"v2":39.9},
{"u":118.2,"v":39.0,"u2":120.1,"v2":38.2},{"u":125.5,"v":42.4,"u2":127.4,"v2":41.6},{"u":132.3,"v":46.0,"u2":134.2,"v2":45.2},{"u":139.0,"v":49.6,"u2":140.9,"v2":48.8},{"u":145.1,"v":52.9,"u2":147.0,"v2":52.1},{"u":151.3,"v":56.2,"u2":153.2,"v2":55.4},{"u":157.5,"v":59.5,"u2":159.4,"v2":58.7},{"u":163.3,"v":62.4,"u2":165.2,"v2":61.6},{"u":169.0,"v":65.3,"u2":170.9,"v2":64.5},{"u":174.4,"v":68.2,"u2":176.3,"v2":67.4},{"u":179.5,"v":71.1,"u2":181.4,"v2":70.3},
{"u":121.8,"v":40.7,"u2":122.8,"v2":40.3},{"u":128.9,"v":44.2,"u2":129.9,"v2":43.8},{"u":135.7,"v":47.8,"u2":136.7,"v2":47.4},{"u":142.1,"v":51.3,"u2":143.1,"v2":50.9},{"u":148.2,"v":54.6,"u2":149.2,"v2":54.2},{"u":154.4,"v":57.9,"u2":155.4,"v2":57.5},{"u":160.4,"v":61.0,"u2":161.4,"v2":60.6},{"u":166.2,"v":63.9,"u2":167.2,"v2":63.5},{"u":171.7,"v":66.8,"u2":172.7,"v2":66.4},{"u":177.0,"v":69.7,"u2":178.0,"v2":69.3}
]},
"mark":{"type":"rule","color":"black","strokeWidth":3},
"encoding":{"x":{"field":"u","type":"quantitative"},"y":{"field":"v","type":"quantitative"},"x2":{"field":"u2"},"y2":{"field":"v2"}}},
{"data":{"values":[{"t":"14","u":33.7,"v":151.5},{"t":"12","u":34.3,"v":133.9},{"t":"10","u":35.0,"v":117.3},{"t":"8","u":36.6,"v":101.4},{"t":"6","u":37.1,"v":85.0},{"t":"4","u":37.7,"v":69.3}]},
"mark":{"type":"text","fontSize":38,"font":"Liberation Serif","color":"#333333","angle":350,"align":"center","baseline":"middle"},
"encoding":{"x":{"field":"u","type":"quantitative"},"y":{"field":"v","type":"quantitative"},"text":{"field":"t"}}},
{"data":{"values":[{"t":"5","u":38.9,"v":65.1},{"t":"6","u":47.7,"v":62.0},{"t":"7","u":56.4,"v":58.8},{"t":"8","u":65.5,"v":55.5},{"t":"9","u":74.7,"v":51.9},{"t":"10","u":84.0,"v":47.7},{"t":"11","u":94.0,"v":44.0},{"t":"12","u":104.8,"v":40.0},{"t":"13","u":115.7,"v":35.9},
{"t":"2.0","u":124.3,"v":36.3},{"t":"2.2","u":131.5,"v":40.2},{"t":"2.4","u":138.2,"v":44.0},{"t":"2.6","u":144.8,"v":47.5},{"t":"2.8","u":151.5,"v":50.8},{"t":"3.0","u":157.5,"v":54.1},{"t":"3.2","u":163.8,"v":57.4},{"t":"3.4","u":169.0,"v":60.6},{"t":"3.6","u":174.6,"v":63.7},{"t":"3.8","u":179.8,"v":66.6},{"t":"4.0","u":185.3,"v":69.5}]},
"mark":{"type":"text","fontSize":34,"font":"Liberation Serif","color":"#333333","angle":35,"align":"center","baseline":"middle"},
"encoding":{"x":{"field":"u","type":"quantitative"},"y":{"field":"v","type":"quantitative"},"text":{"field":"t"}}},
{"data":{"values":[{"t":"D/mm","u":68.3,"v":49.0}]},
"mark":{"type":"text","fontSize":46,"font":"Liberation Serif","color":"#222222","angle":32,"align":"center","baseline":"middle"},
"encoding":{"x":{"field":"u","type":"quantitative"},"y":{"field":"v","type":"quantitative"},"text":{"field":"t"}}},
{"data":{"values":[{"t":"R/mm","u":164.2,"v":51.9}]},
"mark":{"type":"text","fontSize":46,"font":"Liberation Serif","color":"#222222","angle":332,"align":"center","baseline":"middle"},
"encoding":{"x":{"field":"u","type":"quantitative"},"y":{"field":"v","type":"quantitative"},"text":{"field":"t"}}},
{"data":{"values":[{"t":"△P/MPa","u":29.4,"v":114.1}]},
"mark":{"type":"text","fontSize":44,"fontWeight":"bold","font":"Liberation Serif","color":"#222222","angle":270,"align":"center","baseline":"middle"},
"encoding":{"x":{"field":"u","type":"quantitative"},"y":{"field":"v","type":"quantitative"},"text":{"field":"t"}}},
{"data":{"values":[{"t":"(b)","u":121.7,"v":5.8}]},
"mark":{"type":"text","fontSize":62,"fontWeight":"bold","font":"Liberation Serif","color":"black","align":"center","baseline":"alphabetic"},
"encoding":{"x":{"field":"u","type":"quantitative"},"y":{"field":"v","type":"quantitative"},"text":{"field":"t"}}}
]},
{"width":82,"height":1833,"layer":[
{"data":{"values":[
{"level":15.36,"lo":15.265,"hi":15.45},{"level":15.17,"lo":15.08,"hi":15.265},{"level":14.99,"lo":14.895,"hi":15.08},{"level":14.80,"lo":14.71,"hi":14.895},{"level":14.62,"lo":14.525,"hi":14.71},{"level":14.43,"lo":14.34,"hi":14.525},{"level":14.25,"lo":14.155,"hi":14.34},{"level":14.06,"lo":13.97,"hi":14.155},{"level":13.88,"lo":13.785,"hi":13.97},{"level":13.0,"lo":11.565,"hi":13.785},{"level":11.47,"lo":11.38,"hi":11.565},{"level":11.29,"lo":11.195,"hi":11.38},{"level":11.10,"lo":11.01,"hi":11.195},{"level":10.92,"lo":10.825,"hi":11.01},{"level":10.73,"lo":10.64,"hi":10.825},{"level":10.55,"lo":10.455,"hi":10.64},{"level":10.36,"lo":10.27,"hi":10.455},{"level":10.18,"lo":10.085,"hi":10.27},{"level":9.99,"lo":9.9,"hi":10.085},{"level":9.81,"lo":9.715,"hi":9.9},{"level":9.62,"lo":9.53,"hi":9.715},{"level":9.44,"lo":9.345,"hi":9.53},{"level":9.25,"lo":9.16,"hi":9.345},{"level":9.07,"lo":8.975,"hi":9.16},{"level":8.88,"lo":8.79,"hi":8.975},{"level":8.2,"lo":7.68,"hi":8.79},{"level":7.59,"lo":7.495,"hi":7.68},{"level":7.40,"lo":7.31,"hi":7.495},{"level":7.22,"lo":7.125,"hi":7.31},{"level":7.03,"lo":6.94,"hi":7.125},{"level":6.85,"lo":6.755,"hi":6.94},{"level":6.66,"lo":6.57,"hi":6.755},{"level":6.48,"lo":6.385,"hi":6.57},{"level":6.29,"lo":6.2,"hi":6.385},{"level":6.11,"lo":6.015,"hi":6.2},{"level":5.92,"lo":5.83,"hi":6.015},{"level":5.74,"lo":5.645,"hi":5.83},{"level":5.55,"lo":5.46,"hi":5.645},{"level":5.37,"lo":5.275,"hi":5.46},{"level":5.18,"lo":5.09,"hi":5.275},{"level":5.00,"lo":4.905,"hi":5.09},{"level":4.81,"lo":4.72,"hi":4.905},{"level":4.63,"lo":4.535,"hi":4.72},{"level":4.44,"lo":4.35,"hi":4.535}
]},
"mark":{"type":"rect"},
"encoding":{
"x":{"datum":0,"type":"quantitative","scale":{"domain":[0,1]},"axis":null},
"x2":{"datum":1},
"y":{"field":"lo","type":"quantitative","scale":{"domain":[4.35,15.45],"range":[1291,136],"nice":false,"zero":false},
"axis":{"orient":"right","values":[4.35,5.46,6.57,7.68,8.79,9.9,11.01,12.12,13.23,14.34,15.45],"format":".4r","domain":false,"tickSize":24,"tickWidth":4,"tickColor":"black","labelFont":"Liberation Serif","labelFontSize":44,"labelColor":"#222222","labelPadding":12,"labelOverlap":false,"labelBound":false,"grid":false,"title":null,"zindex":2}},
"y2":{"field":"hi"},
"color":{"field":"level","type":"quantitative","legend":null,"scale":{"type":"threshold","domain":[4.535,4.72,4.905,5.09,5.275,5.46,5.645,5.83,6.015,6.2,6.385,6.57,6.755,6.94,7.125,7.31,7.495,7.68,8.79,8.975,9.16,9.345,9.53,9.715,9.9,10.085,10.27,10.455,10.64,10.825,11.01,11.195,11.38,11.565,13.785,13.97,14.155,14.34,14.525,14.71,14.895,15.08,15.265],"range":["#800080","#880099","#9900BB","#9900EE","#8800FF","#7700FF","#5500FF","#2200FF","#0000FF","#0044FF","#0066FF","#0088FF","#00AAFF","#00BBFF","#00DDFF","#00FFFF","#00FFBB","#00FF80","#00FF00","#66FF00","#99FF00","#BBFF00","#DDFF00","#EEFF00","#FFFF00","#FFDD00","#FFCC00","#FFAA00","#FF9900","#FF8000","#FF6600","#FF5500","#FF4400","#FF2200","#FF0000","#EE0000","#DD0000","#CC0000","#BB0000","#AA0000","#990000","#880000","#770000","#660000"]}}}},
{"data":{"values":[{"lo":4.235,"hi":4.35}]},
"mark":{"type":"rect","color":"black"},
"encoding":{"x":{"datum":0,"type":"quantitative"},"x2":{"datum":1},"y":{"field":"lo","type":"quantitative"},"y2":{"field":"hi"}}},
{"data":{"values":[{"lo":4.235,"hi":15.565}]},
"mark":{"type":"rect","filled":false,"stroke":"black","strokeWidth":3},
"encoding":{"x":{"datum":0,"type":"quantitative"},"x2":{"datum":1},"y":{"field":"lo","type":"quantitative"},"y2":{"field":"hi"}}},
{"data":{"values":[{"unit":"MPa","x":2.06,"lo":15.84}]},
"mark":{"type":"text","fontSize":66,"font":"Liberation Serif","color":"black","align":"center","baseline":"alphabetic"},
"encoding":{"x":{"field":"x","type":"quantitative"},"y":{"field":"lo","type":"quantitative"},"text":{"field":"unit"}}}
]}
]
}
